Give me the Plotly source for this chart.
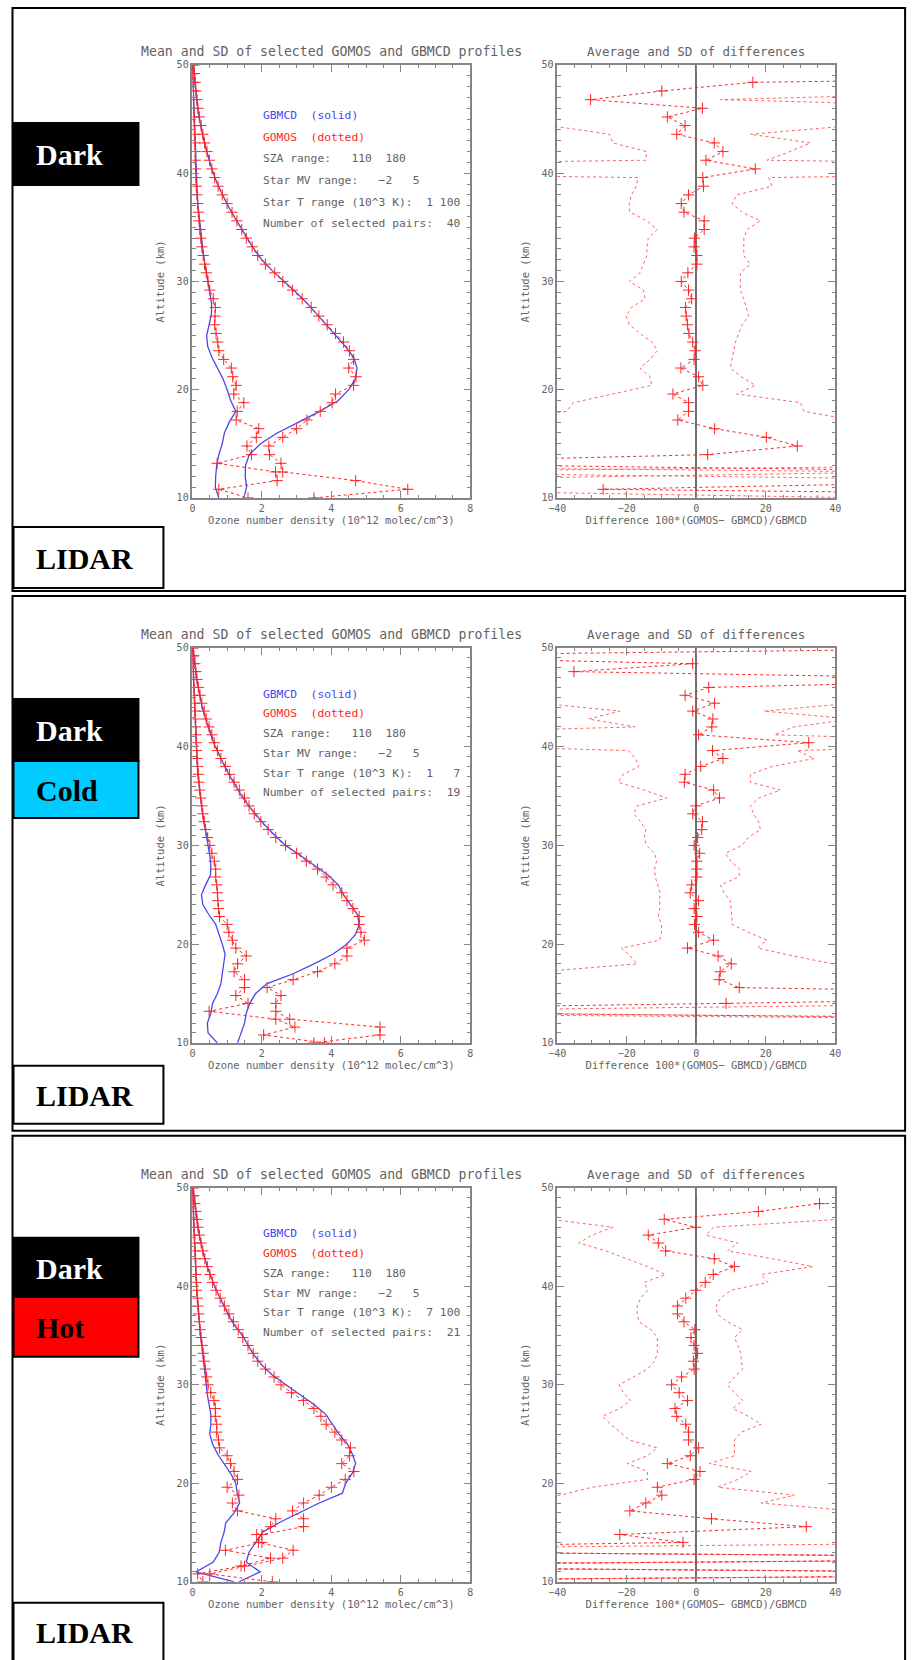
import plotly.graph_objects as go

W, H = 913, 1660
# measured mapping between page pixels and the photographed picture
SX, AX = 0.984, 8.5
SY, AY = 0.9935, 5.0

# ---------------- data ----------------
ALT_GBMCD = [50, 49, 48, 47, 46, 45, 44, 43, 42, 41, 40, 39, 38, 37, 36, 35, 34, 33, 32, 31, 30,
             29, 28, 27, 26, 25, 24, 23, 22, 21, 20, 19, 18, 17, 16, 15, 14, 13, 12, 11, 10]
ALT_GOMOS = [50.0, 49.2, 48.4, 47.6, 46.8, 46.0, 45.2, 44.4, 43.6, 42.8,
             42.0, 41.2, 40.4, 39.6, 38.8, 38.0, 37.2, 36.4, 35.6, 34.8,
             34.0, 33.2, 32.4, 31.6, 30.8, 30.0, 29.2, 28.4, 27.6, 26.8,
             26.0, 25.2, 24.4, 23.6, 22.8, 22.0, 21.2, 20.4, 19.6, 18.8,
             18.0, 17.2, 16.4, 15.6, 14.8, 14.0, 13.2, 12.4, 11.6, 10.8,
             10.0]

# Panel 1 : Dark, star T 1-100
gbmcd_mean_1 = [0.02, 0.05, 0.08, 0.11, 0.15, 0.20, 0.26, 0.33, 0.41, 0.50,
                0.60, 0.72, 0.86, 1.02, 1.20, 1.38, 1.58, 1.77, 2.00, 2.30,
                2.65, 2.98, 3.30, 3.58, 3.85, 4.12, 4.40, 4.64, 4.74, 4.69,
                4.50, 4.20, 3.66, 3.06, 2.44, 1.96, 1.64, 1.53, 1.52, 1.56,
                1.48]
gbmcd_sd_1 = [0.00, 0.01, 0.02, 0.03, 0.04, 0.05, 0.06, 0.07, 0.08, 0.09,
              0.10, 0.12, 0.14, 0.16, 0.19, 0.22, 0.26, 0.30, 0.34, 0.39,
              0.44, 0.50, 0.55, 0.55, 0.48, 0.41, 0.44, 0.56, 0.72, 0.88,
              1.00, 1.10, 1.25, 1.06, 0.92, 0.86, 0.76, 0.70, 0.67, 0.66,
              0.76]
gomos_mean_1 = [0.04, 0.06, 0.08, 0.10, 0.13, 0.16, 0.20, 0.25, 0.30, 0.35,
                0.42, 0.49, 0.56, 0.64, 0.74, 0.86, 1.00, 1.14, 1.28, 1.42,
                1.55, 1.72, 1.88, 2.10, 2.37, 2.60, 2.88, 3.16, 3.42, 3.64,
                3.88, 4.12, 4.35, 4.52, 4.64, 4.50, 4.71, 4.64, 4.12, 4.02,
                3.68, 3.30, 3.00, 2.60, 2.20, 2.22, 2.55, 2.60, 4.70, 6.20,
                3.50]
gomos_sd_1 = [0.00, 0.01, 0.02, 0.03, 0.03, 0.04, 0.05, 0.05, 0.06, 0.07,
              0.08, 0.08, 0.09, 0.10, 0.11, 0.13, 0.15, 0.17, 0.19, 0.21,
              0.24, 0.27, 0.31, 0.35, 0.40, 0.45, 0.50, 0.60, 0.66, 0.65,
              0.64, 0.68, 0.73, 0.76, 0.90, 1.12, 1.16, 1.26, 1.19, 1.48,
              1.29, 1.26, 1.91, 1.84, 1.57, 1.70, 0.71, 2.39, 2.44, 0.76,
              1.60]
diff_mean_1 = [200, 200, 16.3, -9.9, -30.4, 1.8, -8.3, -3.2, -5.6, 5.2,
               7.7, 2.8, 17.0, 1.9, 2.1, -2.2, -4.3, -3.5, 2.3, 2.3,
               -0.5, -0.6, 0.2, 0.2, -2.4, -4.3, -2.2, -1.3, -3.1, -2.9,
               -2.5, -2.1, -1.0, -0.3, -0.6, -4.4, 0.7, 1.9, -6.7, -2.2,
               -2.2, -5.3, 5.3, 20.2, 29.1, 3.3, -100, 100, 100, -26.8,
               200]
diff_low_1 = [-100, -100, -100, -100, -100, -100, -100, -42, -25, -24,
              -14.3, -14.5, -200, -16.7, -17.3, -18.6, -19.3, -19.1, -14.2, -11.2,
              -13.8, -14.2, -14.2, -15.2, -16.2, -19.2, -15.2, -14.7, -18.6, -20.2,
              -19.2, -16.2, -12.8, -11.2, -13.3, -16.2, -13.3, -12.8, -23.9, -35.4,
              -37.3, -60, -100, -100, -100, -100, -200, 60, -100, -100,
              50]
diff_high_1 = [100, 100, 100, 100, 7.0, 100, 100, 45, 15.6, 32.9,
               27, 20.4, 200, 20.9, 21.8, 11.7, 10.3, 13.2, 18.5, 14.6,
               13.7, 13.7, 13.7, 15.6, 12.7, 12.7, 12.7, 13.7, 14.5, 15.1,
               13.2, 12.3, 11.3, 10.8, 10.3, 9.8, 13.0, 17.0, 11.7, 30.0,
               31.0, 45, 100, 100, 100, 100, 150, -100, 100, 100,
               100]

# Panel 2 : Dark + Cold, star T 1-7
gbmcd_mean_2 = [0.02, 0.05, 0.08, 0.12, 0.17, 0.22, 0.28, 0.36, 0.45, 0.55,
                0.66, 0.79, 0.93, 1.08, 1.24, 1.42, 1.62, 1.85, 2.10, 2.38,
                2.68, 3.10, 3.50, 3.90, 4.20, 4.35, 4.55, 4.75, 4.80, 4.70,
                4.45, 4.05, 3.50, 2.90, 2.15, 1.82, 1.65, 1.55, 1.50, 1.40,
                1.30]
gbmcd_sd_2 = [0.00, 0.01, 0.02, 0.03, 0.04, 0.05, 0.06, 0.07, 0.08, 0.09,
              0.10, 0.12, 0.14, 0.16, 0.19, 0.22, 0.26, 0.30, 0.35, 0.40,
              0.46, 0.50, 0.53, 0.52, 0.38, 0.26, 0.30, 0.47, 0.67, 0.77,
              0.86, 0.94, 0.91, 0.86, 0.82, 0.72, 0.58, 0.53, 0.43, 0.45,
              0.72]
gomos_mean_2 = [0.02, 0.04, 0.07, 0.10, 0.13, 0.17, 0.22, 0.27, 0.34, 0.40,
                0.48, 0.56, 0.63, 0.72, 0.82, 0.95, 1.07, 1.20, 1.35, 1.50,
                1.63, 1.78, 1.97, 2.18, 2.40, 2.68, 3.00, 3.28, 3.60, 3.85,
                4.05, 4.30, 4.45, 4.62, 4.80, 4.80, 4.85, 4.95, 4.45, 4.45,
                4.10, 3.60, 2.90, 2.15, 2.55, 2.40, 2.40, 2.80, 5.40, 5.40,
                3.50]
gomos_sd_2 = [0.00, 0.01, 0.02, 0.02, 0.03, 0.04, 0.05, 0.06, 0.07, 0.08,
              0.09, 0.10, 0.11, 0.12, 0.13, 0.15, 0.17, 0.19, 0.21, 0.24,
              0.27, 0.30, 0.34, 0.38, 0.44, 0.50, 0.56, 0.63, 0.67, 0.67,
              0.70, 0.72, 0.73, 0.75, 0.78, 1.00, 1.05, 1.15, 1.25, 1.55,
              1.30, 1.20, 1.50, 1.50, 1.25, 1.60, 0.48, 2.40, 2.95, 2.05,
              3.80]
diff_mean_2 = [100, -100, -1.0, -35.2, 100, 3.6, -3.2, 5.3, -1.0, 4.8,
               4.5, 0.7, 32.4, 4.7, 7.7, 1.3, -3.2, -3.4, 5.0, 6.7,
               -0.1, -1.0, 1.8, 1.6, 0.4, -0.6, 1.0, 0.2, 0.2, 0.2,
               -1.3, -1.7, 0.7, -0.6, 0.2, -0.5, 0.7, 5.0, -2.5, 6.3,
               10.1, 6.9, 6.6, 12.4, 150, 8.6, -150, 150, 200, 200,
               200]
diff_low_2 = [-100, -100, -100, -100, -100, -100, -100, -45, -22, -31,
              -17.6, -100, -100, -19.5, -17.5, -16.5, -21, -22.5, -15, -8.5,
              -17, -18, -16, -14.5, -15, -14.3, -12, -11.4, -12, -11.8,
              -11, -10.4, -10.5, -10.5, -10.9, -10, -10, -10.5, -21.5, -19,
              -17, -45, -100, -100, -100, -100, -200, 100, 100, 100,
              100]
diff_high_2 = [100, 100, 100, 100, 100, 100, 100, 45, 19.5, 45,
               28, 22.5, 100, 29, 34, 22, 15.6, 15.6, 24.3, 18,
               15.6, 16.5, 18, 18.5, 15, 13.2, 8.4, 10, 12.5, 12.3,
               7, 8, 9.8, 10, 10.3, 10.3, 15, 20.4, 17.6, 28,
               39.4, 100, 100, 100, 100, 100, -100, 100, 200, 200,
               200]

# Panel 3 : Dark + Hot, star T 7-100
gbmcd_mean_3 = [0.02, 0.05, 0.08, 0.12, 0.16, 0.21, 0.27, 0.34, 0.43, 0.53,
                0.64, 0.77, 0.90, 1.05, 1.22, 1.45, 1.60, 1.78, 2.00, 2.30,
                2.69, 3.10, 3.50, 3.84, 4.03, 4.22, 4.46, 4.60, 4.70, 4.60,
                4.41, 4.32, 3.65, 3.07, 2.49, 2.01, 1.82, 1.63, 1.55, 1.95,
                1.34]
gbmcd_sd_3 = [0.00, 0.01, 0.02, 0.03, 0.04, 0.05, 0.06, 0.07, 0.08, 0.10,
              0.12, 0.14, 0.16, 0.18, 0.20, 0.23, 0.27, 0.30, 0.34, 0.36,
              0.38, 0.43, 0.48, 0.53, 0.53, 0.50, 0.58, 0.72, 0.91, 1.10,
              1.25, 1.29, 1.36, 1.20, 0.96, 0.91, 0.82, 0.77, 0.60, 0.10,
              1.20]
gomos_mean_3 = [0.02, 0.04, 0.07, 0.10, 0.13, 0.16, 0.20, 0.25, 0.30, 0.36,
                0.43, 0.50, 0.58, 0.68, 0.80, 0.92, 1.05, 1.18, 1.32, 1.45,
                1.60, 1.75, 1.88, 2.10, 2.35, 2.55, 2.85, 3.20, 3.50, 3.70,
                3.85, 4.10, 4.30, 4.55, 4.52, 4.30, 4.65, 4.40, 4.00, 3.65,
                3.20, 2.88, 3.20, 3.20, 2.00, 1.90, 2.90, 2.60, 1.50, 0.50,
                2.30]
gomos_sd_3 = [0.00, 0.01, 0.02, 0.02, 0.03, 0.04, 0.05, 0.06, 0.07, 0.08,
              0.09, 0.10, 0.11, 0.12, 0.14, 0.16, 0.18, 0.20, 0.22, 0.25,
              0.28, 0.31, 0.34, 0.37, 0.41, 0.45, 0.53, 0.62, 0.66, 0.66,
              0.70, 0.70, 0.75, 0.78, 1.00, 1.10, 1.20, 1.30, 1.00, 1.34,
              1.15, 1.30, 2.40, 2.25, 1.85, 2.00, 0.95, 2.25, 1.40, 0.15,
              0.30]
diff_mean_3 = [200, 200, 35.5, 17.9, -9.2, -0.1, -13.8, -10.9, -8.8, 5.2,
               11.0, 4.9, 2.6, -0.1, -3.0, -5.4, -5.4, -3.5, -0.4, -1.5,
               -0.6, 0.4, -0.8, -0.6, -4.2, -7.1, -4.9, -2.5, -6.1, -5.6,
               -3.0, -2.2, -2.2, 0.7, -1.7, -8.3, 1.1, -0.6, -11.2, -9.9,
               -14.5, -19.1, 4.4, 31.7, -22.0, -3.8, -150, 150, -150, 150,
               -150]
diff_low_3 = [-100, -100, -100, -100, -42, -24, -30, -33.8, -26, -19.8,
              -14, -8.8, -15, -14, -16, -17, -17, -16.5, -13, -11.2,
              -11.2, -11.2, -12, -14, -18, -22.2, -21, -18.9, -22, -27,
              -24.6, -22, -19.3, -11.2, -14, -19.8, -14, -14, -30, -39,
              -100, -100, -100, -100, -100, -100, -150, 150, -150, 150,
              -150]
diff_high_3 = [100, 100, 100, 100, 41, 5, 2.8, 12, 9, 22,
               33.6, 18.7, 20.6, 10, 7, 5.7, 6, 9, 13.4, 11,
               12, 12.9, 13, 13.4, 11, 9.0, 11, 13.4, 10.5, 15,
               18.7, 13, 11, 11, 11, 3.8, 15.8, 12, 6.2, 28.3,
               18.7, 45, 100, 100, 100, 100, -150, 150, -150, 150,
               -150]

STAR_T_RANGE = ["1\u00a0100", "1\u00a0\u00a0\u00a07", "7\u00a0100"]
N_PAIRS = ["40", "19", "21"]
PANEL_TAGS = [["Dark"], ["Dark", "Cold"], ["Dark", "Hot"]]

LEFT_TITLE = "Mean and SD of selected GOMOS and GBMCD profiles"
RIGHT_TITLE = "Average and SD of differences"
LEFT_XTITLE = "Ozone number density (10^12 molec/cm^3)"
RIGHT_XTITLE = "Difference 100*(GOMOS\u2212 GBMCD)/GBMCD"
YTITLE = "Altitude (km)"

# ---------------- style / layout ----------------
BLUE = "#4646f2"
RED = "#ff2424"
RED_ENV = "rgba(255,60,60,0.8)"
GREY = "#636363"
AXC = "#858585"
FONT = "DejaVu Sans Mono"
SERIF = "Liberation Serif"

# positions in picture pixels of the target
LEFT_X = (192, 470)
RIGHT_X = (557, 835)
PANEL_Y = [(65, 498), (648, 1043), (1188, 1582)]
FRAMES = [(12, 8, 905, 591), (12, 596, 905, 1131), (12, 1136, 905, 1680)]
TAG_BOXES = [
    [(13, 123, 138, 185), (13, 527, 163, 588)],
    [(13, 699, 138, 761), (13, 761, 138, 818), (13, 1066, 163, 1124)],
    [(13, 1238, 138, 1297), (13, 1297, 138, 1357), (13, 1603, 163, 1680)],
]
TAG_COLORS = {"Dark": ("black", "white"), "Cold": ("#00ccff", "black"),
              "Hot": ("#ff0000", "black"), "LIDAR": ("white", "black")}

panels = [
    (gbmcd_mean_1, gbmcd_sd_1, gomos_mean_1, gomos_sd_1, diff_mean_1, diff_low_1, diff_high_1),
    (gbmcd_mean_2, gbmcd_sd_2, gomos_mean_2, gomos_sd_2, diff_mean_2, diff_low_2, diff_high_2),
    (gbmcd_mean_3, gbmcd_sd_3, gomos_mean_3, gomos_sd_3, diff_mean_3, diff_low_3, diff_high_3),
]


def px(x):
    return ((x - AX) / SX) / W


def py(y):
    return 1 - ((y - AY) / SY) / H


fig = go.Figure()
cross = dict(symbol="cross-thin", size=8, line=dict(width=1, color=RED), color=RED)

layout = dict(width=W, height=H, autosize=False, margin=dict(l=0, r=0, t=0, b=0, pad=0),
              paper_bgcolor="white", plot_bgcolor="white", showlegend=False,
              font=dict(family=FONT, color=GREY))
annotations = []
shapes = []


def axis_base():
    return dict(showline=True, linecolor=AXC, linewidth=1.5, mirror="ticks",
                ticks="inside", ticklen=7, tickwidth=1, tickcolor=AXC,
                showgrid=False, zeroline=False, fixedrange=True,
                tickfont=dict(family=FONT, size=10, color=GREY),
                title_font=dict(family=FONT, size=10.5, color=GREY))


for i, (gbm, gbs, gom, gos, dm, dlo, dhi) in enumerate(panels):
    top, bot = PANEL_Y[i]
    ydom = [py(bot), py(top)]
    kl, kr = 2 * i + 1, 2 * i + 2
    xl = "x" if kl == 1 else f"x{kl}"
    yl = "y" if kl == 1 else f"y{kl}"
    xr, yr = f"x{kr}", f"y{kr}"

    for series in (gbm, gbs):
        fig.add_trace(go.Scatter(x=series, y=ALT_GBMCD, mode="lines", xaxis=xl, yaxis=yl,
                                 line=dict(color=BLUE, width=1.3), hoverinfo="skip"))
    for series in (gom, gos):
        fig.add_trace(go.Scatter(x=series, y=ALT_GOMOS, mode="lines+markers", xaxis=xl, yaxis=yl,
                                 line=dict(color=RED, width=1, dash="dot"), marker=cross,
                                 hoverinfo="skip"))
    for series in (dlo, dhi):
        fig.add_trace(go.Scatter(x=series, y=ALT_GOMOS, mode="lines", xaxis=xr, yaxis=yr,
                                 line=dict(color=RED_ENV, width=1, dash="dot"), hoverinfo="skip"))
    fig.add_trace(go.Scatter(x=dm, y=ALT_GOMOS, mode="lines+markers", xaxis=xr, yaxis=yr,
                             line=dict(color=RED, width=1, dash="dot"), marker=cross,
                             hoverinfo="skip"))

    ax = axis_base()
    ax.update(domain=[px(LEFT_X[0]), px(LEFT_X[1])], anchor=yl, range=[0, 8], dtick=2, tick0=0,
              minor=dict(dtick=0.5, ticklen=3.5, ticks="inside", tickcolor=AXC, showgrid=False),
              title=dict(text=LEFT_XTITLE, standoff=2))
    layout["xaxis" if kl == 1 else f"xaxis{kl}"] = ax

    ay = axis_base()
    ay.update(domain=ydom, anchor=xl, range=[10, 50], dtick=10, tick0=10,
              minor=dict(dtick=1, ticklen=3.5, ticks="inside", tickcolor=AXC, showgrid=False),
              title=dict(text=YTITLE, standoff=10))
    layout["yaxis" if kl == 1 else f"yaxis{kl}"] = ay

    ax2 = axis_base()
    ax2.update(domain=[px(RIGHT_X[0]), px(RIGHT_X[1])], anchor=yr, range=[-40, 40], dtick=20,
               tick0=0, zeroline=True, zerolinecolor="#6e6e6e", zerolinewidth=2,
               minor=dict(dtick=5, ticklen=3.5, ticks="inside", tickcolor=AXC, showgrid=False),
               title=dict(text=RIGHT_XTITLE, standoff=2))
    layout[f"xaxis{kr}"] = ax2

    ay2 = axis_base()
    ay2.update(domain=ydom, anchor=xr, range=[10, 50], dtick=10, tick0=10,
               minor=dict(dtick=1, ticklen=3.5, ticks="inside", tickcolor=AXC, showgrid=False),
               title=dict(text=YTITLE, standoff=10))
    layout[f"yaxis{kr}"] = ay2

    for (x0, x1), txt, fs in ((LEFT_X, LEFT_TITLE, 13.2), (RIGHT_X, RIGHT_TITLE, 12.5)):
        annotations.append(dict(text=txt, x=px((x0 + x1) / 2), y=py(top - 13), xref="paper",
                                yref="paper", xanchor="center", yanchor="middle", showarrow=False,
                                font=dict(family=FONT, size=fs, color=GREY)))

    h = bot - top
    lines = [("GBMCD\u00a0\u00a0(solid)", BLUE),
             ("GOMOS\u00a0\u00a0(dotted)", RED),
             ("SZA range:\u00a0\u00a0\u00a0110\u00a0\u00a0180", GREY),
             ("Star MV range:\u00a0\u00a0\u00a0\u22122\u00a0\u00a0\u00a05", GREY),
             ("Star T range (10^3 K):\u00a0\u00a0" + STAR_T_RANGE[i], GREY),
             ("Number of selected pairs:\u00a0\u00a0" + N_PAIRS[i], GREY)]
    for k, (txt, col) in enumerate(lines):
        annotations.append(dict(text=txt, x=px(261), y=py(top + h * (0.117 + 0.05 * k)),
                                xref="paper", yref="paper", xanchor="left", yanchor="middle",
                                showarrow=False, font=dict(family=FONT, size=11.3, color=col)))

    fx0, fy0, fx1, fy1 = FRAMES[i]
    shapes.append(dict(type="rect", xref="paper", yref="paper", x0=px(fx0), x1=px(fx1),
                       y0=py(fy1), y1=py(fy0), line=dict(color="black", width=2),
                       fillcolor="rgba(0,0,0,0)", layer="above"))

    tags = PANEL_TAGS[i] + ["LIDAR"]
    for tag, (bx0, by0, bx1, by1) in zip(tags, TAG_BOXES[i]):
        fill, tcol = TAG_COLORS[tag]
        shapes.append(dict(type="rect", xref="paper", yref="paper", x0=px(bx0), x1=px(bx1),
                           y0=py(by1), y1=py(by0), line=dict(color="black", width=2),
                           fillcolor=fill, layer="above"))
        cy = (by0 + min(by1, 1660)) / 2 + 1
        annotations.append(dict(text="<b>" + tag + "</b>", x=px(34), y=py(cy),
                                xref="paper", yref="paper", xanchor="left", yanchor="middle",
                                showarrow=False, font=dict(family=SERIF, size=30, color=tcol)))

layout["annotations"] = annotations
layout["shapes"] = shapes
fig.update_layout(**layout)

fig.write_html("out.html", config={"displayModeBar": False},
               post_script="document.body.style.margin='0';document.body.style.overflow='hidden';")
